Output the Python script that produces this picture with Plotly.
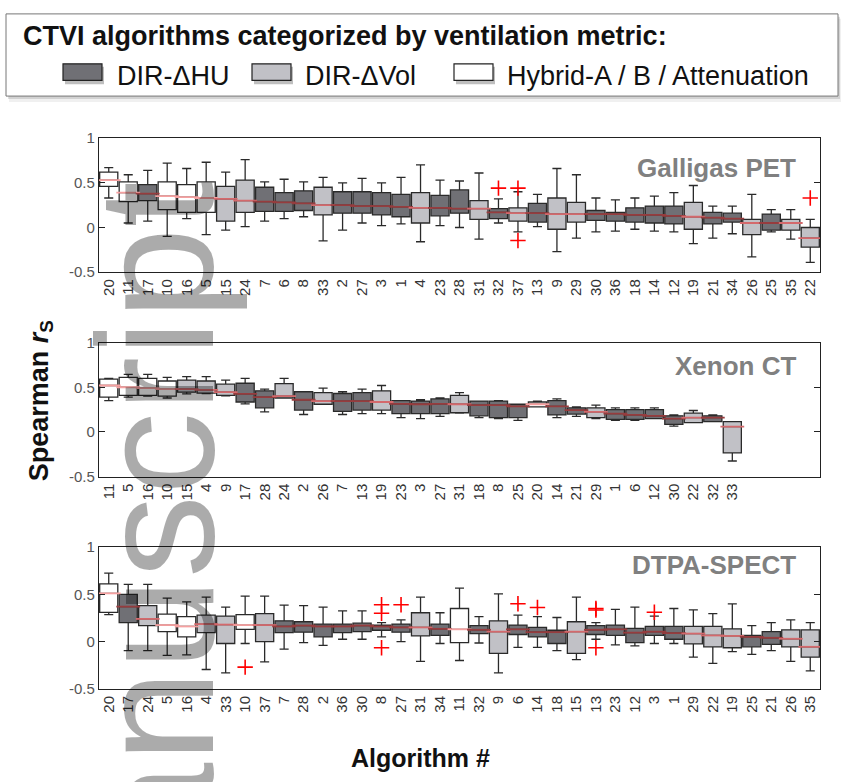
import plotly.graph_objects as go

W, H = 841, 782

# ---------------- data ----------------
DIR_HU = [17, 7, 6, 8, 2, 27, 3, 1, 23, 28, 32, 13, 30, 36, 18, 14, 12, 21, 34, 25]
DIR_VOL = [15, 24, 33, 4, 31, 37, 9, 29, 19, 26, 35, 22]
HYBRID = [20, 11, 10, 16, 5]

panel_titles = ["Galligas PET", "Xenon CT", "DTPA-SPECT"]

labels1 = [20, 11, 17, 10, 16, 5, 15, 24, 7, 6, 8, 33, 2, 27, 3, 1, 4, 23, 28, 31, 32, 37, 13, 9, 29, 30, 36, 18, 14, 12, 19, 21, 34, 26, 25, 35, 22]
hi1 = [0.67, 0.59, 0.64, 0.72, 0.66, 0.73, 0.62, 0.76, 0.51, 0.54, 0.51, 0.56, 0.50, 0.55, 0.50, 0.56, 0.70, 0.53, 0.52, 0.61, 0.32, 0.40, 0.37, 0.66, 0.59, 0.33, 0.31, 0.33, 0.35, 0.39, 0.47, 0.24, 0.24, 0.37, 0.20, 0.20, 0.09]
q3_1 = [0.62, 0.51, 0.48, 0.51, 0.48, 0.51, 0.46, 0.53, 0.45, 0.39, 0.41, 0.45, 0.40, 0.40, 0.39, 0.37, 0.39, 0.36, 0.42, 0.30, 0.21, 0.22, 0.27, 0.33, 0.28, 0.19, 0.17, 0.22, 0.24, 0.24, 0.28, 0.17, 0.16, 0.09, 0.15, 0.09, 0.00]
med1 = [0.53, 0.39, 0.38, 0.35, 0.34, 0.33, 0.32, 0.30, 0.29, 0.28, 0.27, 0.25, 0.25, 0.24, 0.24, 0.23, 0.22, 0.22, 0.21, 0.21, 0.17, 0.16, 0.16, 0.15, 0.15, 0.15, 0.15, 0.14, 0.14, 0.13, 0.12, 0.11, 0.10, 0.05, 0.05, 0.05, -0.12]
q1_1 = [0.46, 0.29, 0.30, 0.20, 0.17, 0.17, 0.07, 0.17, 0.18, 0.18, 0.19, 0.14, 0.16, 0.16, 0.14, 0.12, 0.05, 0.13, 0.16, 0.09, 0.10, 0.07, 0.06, -0.02, 0.06, 0.08, 0.07, 0.06, 0.05, 0.04, -0.02, 0.04, 0.06, -0.08, -0.03, -0.03, -0.22]
lo1 = [0.33, 0.05, 0.07, -0.10, 0.10, -0.08, -0.03, 0.01, 0.07, 0.10, 0.12, -0.15, -0.03, 0.05, 0.02, 0.04, -0.16, 0.02, 0.00, -0.13, 0.05, -0.05, 0.01, -0.27, -0.12, -0.05, -0.04, -0.02, -0.04, -0.05, -0.18, -0.12, -0.07, -0.33, -0.05, -0.13, -0.39]
out1_lab = [32, 37, 37, 22]
out1_val = [0.44, 0.44, -0.145, 0.33]

labels2 = [11, 5, 16, 10, 15, 4, 9, 17, 28, 24, 2, 26, 7, 13, 19, 23, 3, 27, 31, 18, 8, 25, 20, 14, 21, 29, 1, 6, 12, 30, 22, 32, 33]
hi2 = [0.60, 0.645, 0.645, 0.61, 0.62, 0.62, 0.58, 0.60, 0.48, 0.60, 0.45, 0.49, 0.45, 0.48, 0.52, 0.35, 0.36, 0.38, 0.44, 0.345, 0.35, 0.31, 0.345, 0.37, 0.28, 0.30, 0.27, 0.27, 0.27, 0.19, 0.24, 0.19, 0.115]
q3_2 = [0.59, 0.61, 0.60, 0.57, 0.58, 0.57, 0.535, 0.545, 0.46, 0.54, 0.45, 0.44, 0.43, 0.44, 0.46, 0.35, 0.345, 0.37, 0.41, 0.345, 0.345, 0.31, 0.335, 0.35, 0.27, 0.27, 0.25, 0.25, 0.25, 0.18, 0.21, 0.18, 0.115]
med2 = [0.52, 0.50, 0.49, 0.48, 0.48, 0.47, 0.445, 0.425, 0.39, 0.40, 0.36, 0.345, 0.345, 0.345, 0.335, 0.315, 0.31, 0.315, 0.31, 0.30, 0.30, 0.285, 0.31, 0.285, 0.245, 0.225, 0.205, 0.19, 0.18, 0.15, 0.16, 0.16, 0.06]
q1_2 = [0.39, 0.41, 0.41, 0.40, 0.445, 0.435, 0.41, 0.335, 0.27, 0.38, 0.245, 0.31, 0.23, 0.245, 0.245, 0.205, 0.205, 0.205, 0.215, 0.18, 0.16, 0.16, 0.28, 0.19, 0.20, 0.16, 0.14, 0.14, 0.15, 0.085, 0.105, 0.115, -0.235]
lo2 = [0.35, 0.39, 0.40, 0.38, 0.425, 0.43, 0.405, 0.315, 0.225, 0.38, 0.195, 0.31, 0.195, 0.205, 0.205, 0.16, 0.15, 0.175, 0.21, 0.16, 0.15, 0.13, 0.28, 0.16, 0.175, 0.15, 0.13, 0.13, 0.15, 0.065, 0.105, 0.115, -0.325]
out2_lab = []
out2_val = []

labels3 = [20, 17, 24, 5, 16, 4, 33, 10, 37, 7, 28, 2, 36, 30, 8, 27, 31, 34, 11, 32, 9, 6, 14, 18, 15, 13, 23, 12, 3, 1, 29, 22, 19, 25, 21, 26, 35]
hi3 = [0.725, 0.605, 0.605, 0.46, 0.42, 0.47, 0.365, 0.48, 0.48, 0.385, 0.38, 0.365, 0.325, 0.325, 0.20, 0.23, 0.47, 0.305, 0.565, 0.265, 0.505, 0.28, 0.265, 0.255, 0.47, 0.20, 0.34, 0.365, 0.27, 0.35, 0.335, 0.295, 0.40, 0.17, 0.20, 0.23, 0.20]
q3_3 = [0.61, 0.50, 0.38, 0.29, 0.265, 0.28, 0.27, 0.285, 0.295, 0.22, 0.21, 0.185, 0.185, 0.195, 0.175, 0.185, 0.305, 0.185, 0.35, 0.17, 0.22, 0.175, 0.15, 0.12, 0.21, 0.17, 0.175, 0.14, 0.16, 0.16, 0.16, 0.16, 0.135, 0.065, 0.105, 0.125, 0.125]
med3 = [0.51, 0.37, 0.24, 0.175, 0.16, 0.185, 0.18, 0.175, 0.175, 0.16, 0.17, 0.16, 0.16, 0.17, 0.16, 0.15, 0.15, 0.135, 0.13, 0.125, 0.105, 0.13, 0.10, 0.10, 0.105, 0.125, 0.13, 0.095, 0.105, 0.09, 0.085, 0.065, 0.06, 0.05, 0.04, 0.03, -0.055]
q1_3 = [0.31, 0.20, 0.17, 0.105, 0.05, 0.095, -0.02, 0.13, 0.0, 0.095, 0.10, 0.05, 0.095, 0.105, 0.12, 0.10, 0.06, 0.065, -0.01, 0.085, -0.125, 0.075, 0.05, -0.02, -0.125, 0.075, 0.065, -0.01, 0.065, 0.025, -0.025, -0.055, -0.065, -0.055, -0.03, -0.055, -0.165]
lo3 = [0.285, -0.095, -0.095, -0.145, -0.14, -0.295, -0.33, -0.02, -0.215, -0.08, -0.01, -0.04, 0.025, 0.025, 0.05, 0.0, -0.21, -0.02, -0.20, -0.015, -0.33, -0.06, -0.06, -0.095, -0.19, 0.025, -0.035, -0.045, -0.02, -0.02, -0.165, -0.23, -0.105, -0.135, -0.095, -0.21, -0.31]
out3_lab = [10, 8, 8, 8, 27, 6, 14, 13, 13, 13, 3]
out3_val = [-0.27, 0.39, 0.30, -0.065, 0.39, 0.40, 0.36, 0.335, 0.35, -0.065, 0.31]

y_ticks = [-0.5, 0, 0.5, 1]
y_ticktext = ["-0.5", "0", "0.5", "1"]

legend_labels = ["DIR-ΔHU", "DIR-ΔVol", "Hybrid-A / B / Attenuation"]

# ---------------- style ----------------
FONT = "Liberation Sans, Arial, Helvetica, sans-serif"
DARK = "rgb(112,112,117)"
LIGHT = "rgb(193,193,198)"
WHITE = "rgb(255,255,255)"
EDGE = "#2a2a2a"
MED_ON = {DARK: "rgb(150,60,62)", LIGHT: "rgb(212,105,108)", WHITE: "rgb(246,160,160)"}


def px(x):
    return x / W


def py(y):
    return 1 - y / H


panels = [
    (labels1, hi1, q3_1, med1, q1_1, lo1, out1_lab, out1_val, 132, 269),
    (labels2, hi2, q3_2, med2, q1_2, lo2, out2_lab, out2_val, 341, 478),
    (labels3, hi3, q3_3, med3, q1_3, lo3, out3_lab, out3_val, 550, 695),
]

fig = go.Figure()
groups = [(DIR_HU, DARK), (DIR_VOL, LIGHT), (HYBRID, WHITE)]


def fill_of(label):
    for members, col in groups:
        if label in members:
            return col
    return WHITE


for p, (labs, hi, q3, med, q1, lo, olab, oval, ytop, ybot) in enumerate(panels):
    xa = "x" if p == 0 else f"x{p+1}"
    ya = "y" if p == 0 else f"y{p+1}"
    for members, color in groups:
        idx = [i for i, l in enumerate(labs) if l in members]
        if not idx:
            continue
        fig.add_trace(go.Box(
            x=idx,
            q1=[q1[i] for i in idx], median=[med[i] for i in idx], q3=[q3[i] for i in idx],
            lowerfence=[lo[i] for i in idx], upperfence=[hi[i] for i in idx],
            fillcolor=color, line=dict(color=EDGE, width=1.3),
            width=0.93, whiskerwidth=0.5, boxpoints=False,
            xaxis=xa, yaxis=ya, showlegend=False, hoverinfo="skip",
        ))
    # medians in red
    fig.add_trace(go.Scatter(
        x=list(range(len(labs))), y=med, mode="markers",
        marker=dict(symbol="line-ew", size=17,
                    line=dict(color=[MED_ON[fill_of(l)] for l in labs], width=1.8)),
        xaxis=xa, yaxis=ya, showlegend=False, hoverinfo="skip",
    ))
    if olab:
        fig.add_trace(go.Scatter(
            x=[labs.index(l) for l in olab], y=oval, mode="markers",
            marker=dict(symbol="cross-thin", size=11, line=dict(color="red", width=1.6)),
            xaxis=xa, yaxis=ya, showlegend=False, hoverinfo="skip",
        ))

    xkey = "xaxis" if p == 0 else f"xaxis{p+1}"
    ykey = "yaxis" if p == 0 else f"yaxis{p+1}"
    fig.layout[xkey] = dict(
        domain=[px(99), px(820)], anchor=ya, range=[-0.5, 36.5],
        tickmode="array", tickvals=list(range(len(labs))), ticktext=[str(l) for l in labs],
        tickangle=-90, ticks="", showline=True, mirror=True, linecolor="#222", linewidth=1.2,
        showgrid=False, zeroline=False,
        tickfont=dict(family=FONT, size=15, color="#333"),
    )
    fig.layout[ykey] = dict(
        domain=[py(ybot), py(ytop)], anchor=xa, range=[-0.5, 1],
        tickmode="array", tickvals=y_ticks, ticktext=y_ticktext,
        ticks="inside", ticklen=6, tickcolor="#222", showline=True, mirror="ticks",
        linecolor="#222", linewidth=1.2, showgrid=False, zeroline=False,
        tickfont=dict(family=FONT, size=15, color="#555"),
    )

annotations = []
title_y = [163, 365, 568]
for t, yy in zip(panel_titles, title_y):
    annotations.append(dict(
        text=f"<b>{t}</b>", x=px(798), y=py(yy), xref="paper", yref="paper",
        xanchor="right", yanchor="middle", showarrow=False,
        font=dict(family=FONT, size=26, color="#808080"),
    ))

annotations.append(dict(
    text="<b>Spearman <i>r</i><sub>S</sub></b>", x=px(41), y=py(401), xref="paper", yref="paper",
    xanchor="center", yanchor="middle", textangle=-90, showarrow=False,
    font=dict(family=FONT, size=27, color="#111"),
))
annotations.append(dict(
    text="<b>Algorithm #</b>", x=px(420), y=py(766), xref="paper", yref="paper",
    xanchor="center", yanchor="middle", showarrow=False,
    font=dict(family=FONT, size=25, color="#111"),
))

# legend box
shapes = []
shapes.append(dict(type="rect", xref="paper", yref="paper", x0=px(9), x1=px(842), y0=py(95), y1=py(10),
                   line=dict(width=0), fillcolor="rgba(0,0,0,0.06)"))
shapes.append(dict(type="rect", xref="paper", yref="paper", x0=px(8), x1=px(840), y0=py(92), y1=py(8),
                   line=dict(width=0), fillcolor="rgba(0,0,0,0.12)"))
shapes.append(dict(type="rect", xref="paper", yref="paper", x0=px(6), x1=px(838), y0=py(89), y1=py(5),
                   line=dict(color="#777", width=1), fillcolor="white"))
annotations.append(dict(
    text="<b>CTVI algorithms categorized by ventilation metric:</b>", x=px(21), y=py(28),
    xref="paper", yref="paper", xanchor="left", yanchor="middle", showarrow=False,
    font=dict(family=FONT, size=27, color="#111"),
))
sw_x = [63, 252, 454]
tx_x = [115, 303, 505]
for (x0, tx, lab, (_, col)) in zip(sw_x, tx_x, legend_labels, groups):
    shapes.append(dict(type="rect", xref="paper", yref="paper", x0=px(x0 + 2), x1=px(x0 + 41), y0=py(77), y1=py(59),
                       line=dict(width=0), fillcolor="rgba(0,0,0,0.25)"))
    shapes.append(dict(type="rect", xref="paper", yref="paper", x0=px(x0), x1=px(x0 + 39), y0=py(73), y1=py(56),
                       line=dict(color="#222", width=1.2), fillcolor=col))
    annotations.append(dict(
        text=lab, x=px(tx), y=py(68), xref="paper", yref="paper",
        xanchor="left", yanchor="middle", showarrow=False,
        font=dict(family=FONT, size=27, color="#111"),
    ))

# watermark
annotations.append(dict(
    text="Manuscript", x=px(155), y=py(174), xref="paper", yref="paper",
    xanchor="center", yanchor="top", textangle=-90, showarrow=False,
    font=dict(family=FONT, size=166, color="rgba(0,0,0,0.33)"),
))

fig.update_layout(
    width=W, height=H, margin=dict(l=0, r=0, t=0, b=0),
    paper_bgcolor="white", plot_bgcolor="white",
    annotations=annotations, shapes=shapes, boxmode="overlay",
    font=dict(family=FONT),
)

fig.write_html("out.html")
